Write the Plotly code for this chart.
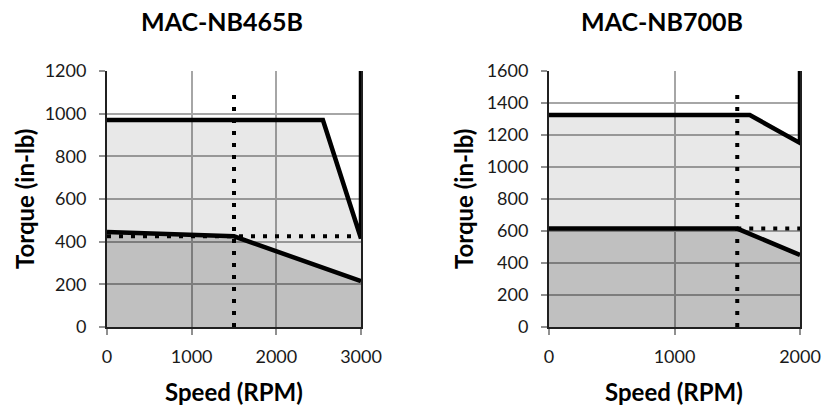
import plotly.graph_objects as go

# ---- data ----
titles = ["MAC-NB465B", "MAC-NB700B"]
x_title = "Speed (RPM)"
y_title = "Torque (in-lb)"

# MAC-NB465B
a_peak_x = [0, 2550, 3000, 3000]
a_peak_y = [970, 970, 415, 1200]
a_cont_x = [0, 1500, 3000]
a_cont_y = [445, 425, 215]
a_vdot_x = [1500, 1500]
a_vdot_y = [0, 1100]
a_hdot_x = [0, 3000]
a_hdot_y = [425, 425]
a_xticks = [0, 1000, 2000, 3000]
a_yticks = [0, 200, 400, 600, 800, 1000, 1200]

# MAC-NB700B
b_peak_x = [0, 1600, 2000, 2000]
b_peak_y = [1325, 1325, 1150, 1600]
b_cont_x = [0, 1500, 2000]
b_cont_y = [615, 615, 450]
b_vdot_x = [1500, 1500]
b_vdot_y = [0, 1460]
b_hdot_x = [1500, 2000]
b_hdot_y = [615, 615]
b_xticks = [0, 1000, 2000]
b_yticks = [0, 200, 400, 600, 800, 1000, 1200, 1400, 1600]

FONT = "Lato"
LIGHT = "rgba(0,0,0,0.09)"
DARK = "rgba(0,0,0,0.172)"

fig = go.Figure()

def add_chart(px, py, cx, cy, vx, vy, hx, hy, xa, ya):
    fig.add_trace(go.Scatter(x=px[:3], y=py[:3], mode="lines", line=dict(width=0),
                             fill="tozeroy", fillcolor=LIGHT, xaxis=xa, yaxis=ya,
                             hoverinfo="skip", showlegend=False))
    fig.add_trace(go.Scatter(x=cx, y=cy, mode="lines", line=dict(width=0),
                             fill="tozeroy", fillcolor=DARK, xaxis=xa, yaxis=ya,
                             hoverinfo="skip", showlegend=False))
    dot = dict(color="black", width=4, dash="4px,8px")
    fig.add_trace(go.Scatter(x=vx, y=vy, mode="lines", line=dot, xaxis=xa, yaxis=ya, showlegend=False))
    fig.add_trace(go.Scatter(x=hx, y=hy, mode="lines", line=dot, xaxis=xa, yaxis=ya, showlegend=False))
    fig.add_trace(go.Scatter(x=cx, y=cy, mode="lines", line=dict(color="black", width=4.5),
                             xaxis=xa, yaxis=ya, showlegend=False))
    fig.add_trace(go.Scatter(x=px, y=py, mode="lines", line=dict(color="black", width=4.5),
                             xaxis=xa, yaxis=ya, showlegend=False))

add_chart(a_peak_x, a_peak_y, a_cont_x, a_cont_y, a_vdot_x, a_vdot_y, a_hdot_x, a_hdot_y, "x", "y")
add_chart(b_peak_x, b_peak_y, b_cont_x, b_cont_y, b_vdot_x, b_vdot_y, b_hdot_x, b_hdot_y, "x2", "y2")

W, H = 822, 406
ydom = [1 - 327 / H, 1 - 71 / H]
xdom1 = [107 / W, 361 / W]
xdom2 = [549 / W, 800 / W]

tickfont = dict(family=FONT, size=18, color="#1a1a1a")
common = dict(showgrid=True, gridcolor="#a6a6a6", gridwidth=1.5, zeroline=False,
              showline=True, linecolor="#202020", linewidth=2, automargin=False,
              ticks="outside", ticklen=6, tickcolor="#909090", tickwidth=1.5,
              tickfont=tickfont, tickmode="array", fixedrange=True)
cx_ax = dict(common, ticklabelstandoff=6)
cy_ax = dict(common, mirror=True, ticklabelstandoff=9)

fig.update_layout(
    template="none",
    width=W, height=H, margin=dict(l=0, r=0, t=0, b=0, pad=0, autoexpand=False),
    paper_bgcolor="white", plot_bgcolor="white", showlegend=False,
    font=dict(family=FONT, color="black"),
    xaxis=dict(cx_ax, domain=xdom1, range=[0, 3000], tickvals=a_xticks,
               ticktext=[str(v) for v in a_xticks], anchor="y"),
    yaxis=dict(cy_ax, domain=ydom, range=[0, 1200], tickvals=a_yticks,
               ticktext=[str(v) for v in a_yticks], anchor="x"),
    xaxis2=dict(cx_ax, domain=xdom2, range=[0, 2000], tickvals=b_xticks,
                ticktext=[str(v) for v in b_xticks], anchor="y2"),
    yaxis2=dict(cy_ax, domain=ydom, range=[0, 1600], tickvals=b_yticks,
                ticktext=[str(v) for v in b_yticks], anchor="x2"),
)

tfont = dict(family=FONT, size=25, color="black")
afont = dict(family=FONT, size=24, color="black")
for t, cx_ in zip(titles, [222 / W, 662 / W]):
    fig.add_annotation(text="<b>%s</b>" % t, x=cx_, y=1 - 21 / H, xref="paper", yref="paper",
                       showarrow=False, font=tfont, xanchor="center", yanchor="middle")
for cx_ in [234 / W, 674 / W]:
    fig.add_annotation(text="<b>%s</b>" % x_title, x=cx_, y=1 - 391 / H, xref="paper", yref="paper",
                       showarrow=False, font=afont, xanchor="center", yanchor="middle")
for cx_ in [24 / W, 463 / W]:
    fig.add_annotation(text="<b>%s</b>" % y_title, x=cx_, y=1 - 199 / H, xref="paper", yref="paper",
                       showarrow=False, font=afont, xanchor="center", yanchor="middle", textangle=-90)

fig.write_html("out.html", config={"displayModeBar": False},
               post_script="document.body.style.margin='0';document.body.style.overflow='hidden';")
